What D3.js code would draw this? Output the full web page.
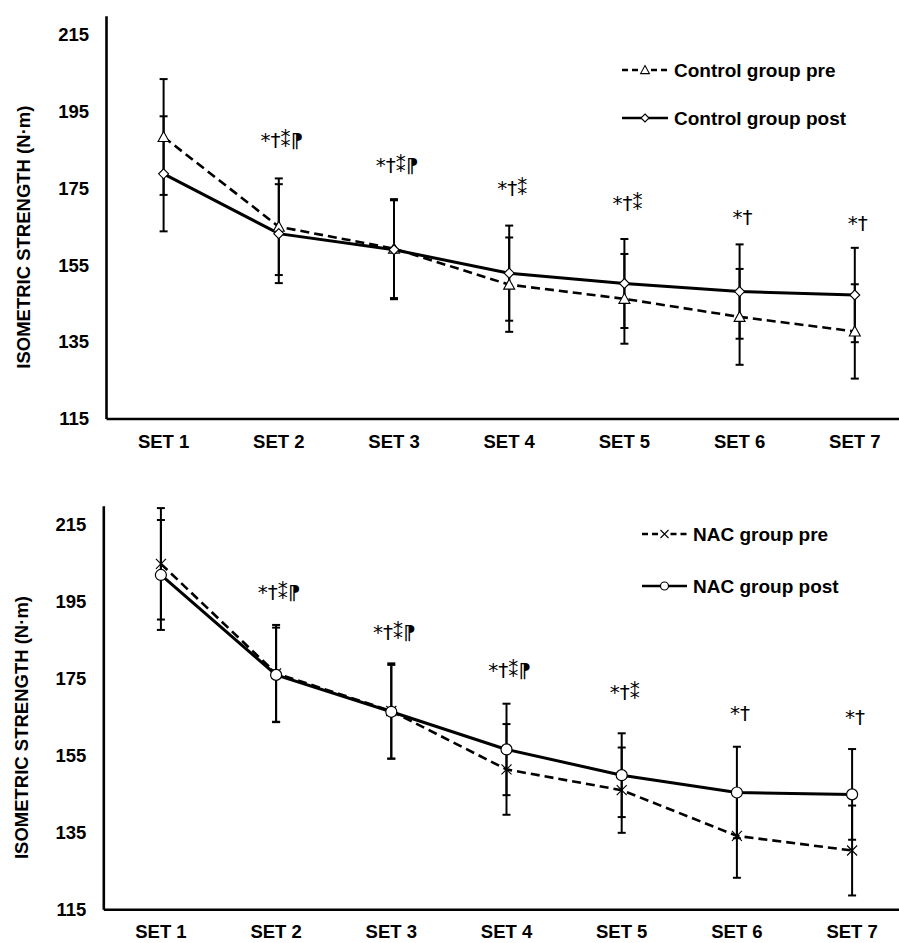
<!DOCTYPE html>
<html><head><meta charset="utf-8">
<script src="https://cdn.jsdelivr.net/npm/d3@7"></script>
<style>
html,body{margin:0;padding:0;background:#fff;}
svg{display:block;}
</style></head>
<body>
<svg id="chart" width="899" height="943"></svg>
<script>
// ---------- DATA ----------
const sets = ["SET 1","SET 2","SET 3","SET 4","SET 5","SET 6","SET 7"];
const yTicks = [115,135,155,175,195,215];
const yLabel = "ISOMETRIC STRENGTH (N·m)";

const controlPre   = [188.4, 165.0, 159.3, 149.9, 146.2, 141.5, 137.7];
const controlPreSD = [15.1, 12.6, 12.9, 12.3, 11.7, 12.5, 12.3];
const controlPost  = [178.8, 163.2, 159.0, 152.9, 150.2, 148.1, 147.2];
const controlPostSD= [15.0, 12.9, 12.9, 12.4, 11.6, 12.3, 12.3];

const nacPre   = [204.9, 176.4, 166.6, 151.4, 146.0, 134.1, 130.3];
const nacPreSD = [14.5, 12.6, 12.4, 11.8, 11.1, 10.9, 11.7];
const nacPost  = [202.0, 176.0, 166.4, 156.6, 149.9, 145.4, 144.9];
const nacPostSD= [14.3, 12.3, 12.2, 11.9, 10.9, 11.9, 11.8];

const controlMarks = ["", "*†⁑⁋", "*†⁑⁋", "*†⁑", "*†⁑", "*†", "*†"];
const controlMarkLevel = [null, 187.7, 181.1, 175.2, 171.3, 167.6, 166.0];
const nacMarks = ["", "*†⁑⁋", "*†⁑⁋", "*†⁑⁋", "*†⁑", "*†", "*†"];
const nacMarkLevel = [null, 197.6, 187.2, 177.4, 171.6, 166.2, 165.1];

const controlLegend = ["Control group pre", "Control group post"];
const nacLegend = ["NAC group pre", "NAC group post"];

// ---------- DRAW ----------
const svg = d3.select("#chart");
const FONT = "'Liberation Sans', Arial, sans-serif";

function markerPath(type, s){
  if(type==="triangle") return `M0,${-s*0.55}L${s*0.55},${s*0.45}L${-s*0.55},${s*0.45}Z`;
  if(type==="diamond") return `M0,${-s/2}L${s/2},0L0,${s/2}L${-s/2},0Z`;
  if(type==="x") return `M${-s/2},${-s/2}L${s/2},${s/2}M${-s/2},${s/2}L${s/2},${-s/2}`;
  return null;
}
function drawMarker(g, type, x, y, s){
  if(type==="circle"){
    g.append("circle").attr("cx",x).attr("cy",y).attr("r",s/2)
      .attr("fill","#fff").attr("stroke","#000").attr("stroke-width",1.2);
  } else if(type==="x"){
    g.append("path").attr("d",markerPath(type,s)).attr("transform",`translate(${x},${y})`)
      .attr("fill","none").attr("stroke","#000").attr("stroke-width",1.1);
  } else {
    g.append("path").attr("d",markerPath(type,s)).attr("transform",`translate(${x},${y})`)
      .attr("fill","#fff").attr("stroke","#000").attr("stroke-width",1.1);
  }
}

function panel(cfg){
  const g = svg.append("g");
  const x = d3.scaleBand().domain(sets).range([cfg.x0, cfg.x0 + 115.2*7]).padding(0);
  const y = d3.scaleLinear().domain([115,220]).range([cfg.yBottom, cfg.yTop]);
  const cx = d => x(d) + x.bandwidth()/2;

  // y axis
  const ya = g.append("g").attr("transform",`translate(${cfg.x0},0)`)
    .call(d3.axisLeft(y).tickValues(yTicks).tickSize(0).tickPadding(17).tickFormat(d3.format("d")));
  ya.select(".domain").attr("stroke","#000").attr("stroke-width",2.6);
  ya.selectAll("text").attr("font-family",FONT).attr("font-weight","bold").attr("font-size",18.5).attr("fill","#000");

  // x axis
  const xa = g.append("g").attr("transform",`translate(0,${cfg.yBottom})`)
    .call(d3.axisBottom(x).tickSize(0).tickPadding(16));
  xa.select(".domain").attr("stroke","#000").attr("stroke-width",2.6);
  xa.selectAll("text").attr("font-family",FONT).attr("font-weight","bold").attr("font-size",18.5).attr("fill","#000");

  // y label
  g.append("text")
    .attr("transform",`translate(${cfg.labelX},${(cfg.yTop+cfg.yBottom)/2+20}) rotate(-90)`)
    .attr("text-anchor","middle").attr("dominant-baseline","central")
    .attr("font-family",FONT).attr("font-weight","bold").attr("font-size",18.5)
    .attr("fill","#000")
    .text(yLabel);

  const series = [
    {vals:cfg.pre, sd:cfg.preSD, dash:"9,5", w:2.6, marker:cfg.preMarker, ms:cfg.preSize},
    {vals:cfg.post, sd:cfg.postSD, dash:null, w:3, marker:cfg.postMarker, ms:cfg.postSize}
  ];

  // error bars
  series.forEach(s=>{
    sets.forEach((c,i)=>{
      const xx = cx(c), hi = y(s.vals[i]+s.sd[i]), lo = y(s.vals[i]-s.sd[i]);
      g.append("line").attr("x1",xx).attr("x2",xx).attr("y1",hi).attr("y2",lo)
        .attr("stroke","#000").attr("stroke-width",2);
      [hi,lo].forEach(yy=>g.append("line").attr("x1",xx-4).attr("x2",xx+4).attr("y1",yy).attr("y2",yy)
        .attr("stroke","#000").attr("stroke-width",2));
    });
  });

  // lines
  series.forEach(s=>{
    const line = d3.line().x((d,i)=>cx(sets[i])).y(d=>y(d));
    const p = g.append("path").datum(s.vals).attr("d",line)
      .attr("fill","none").attr("stroke","#000").attr("stroke-width",s.w);
    if(s.dash) p.attr("stroke-dasharray",s.dash);
  });

  // markers
  series.forEach(s=>{
    s.vals.forEach((v,i)=>drawMarker(g, s.marker, cx(sets[i]), y(v), s.ms));
  });

  // annotations
  cfg.marks.forEach((m,i)=>{
    if(!m) return;
    g.append("text").attr("x",cx(sets[i])+3).attr("y",y(cfg.markLevel[i]))
      .attr("text-anchor","middle").attr("dominant-baseline","central")
      .attr("font-family","'DejaVu Sans', 'Liberation Serif', serif").attr("font-size",20)
      .attr("fill","#000")
      .text(m);
  });

  // legend
  const L = cfg.legend;
  [0,1].forEach(k=>{
    const ly = L.y[k];
    const mid = (L.x1+L.x2)/2;
    if(k===0){
      g.append("line").attr("x1",L.x1).attr("x2",mid-5).attr("y1",ly).attr("y2",ly)
        .attr("stroke","#000").attr("stroke-width",2.4).attr("stroke-dasharray","6,4");
      g.append("line").attr("x1",mid+6).attr("x2",L.x2).attr("y1",ly).attr("y2",ly)
        .attr("stroke","#000").attr("stroke-width",2.4).attr("stroke-dasharray","6,4");
      drawMarker(g, cfg.preMarker, mid, ly, 8);
    } else {
      g.append("line").attr("x1",L.x1).attr("x2",L.x2).attr("y1",ly).attr("y2",ly)
        .attr("stroke","#000").attr("stroke-width",2.6);
      drawMarker(g, cfg.postMarker, mid, ly, 8);
    }
    g.append("text").attr("x",L.tx).attr("y",ly).attr("dominant-baseline","central")
      .attr("font-family",FONT).attr("font-weight","bold").attr("font-size",19)
      .attr("fill","#000")
      .text(L.labels[k]);
  });
}

panel({
  x0:106, yTop:15.8, yBottom:418.5, labelX:23,
  pre:controlPre, preSD:controlPreSD, post:controlPost, postSD:controlPostSD,
  preMarker:"triangle", preSize:10, postMarker:"diamond", postSize:10,
  marks:controlMarks, markLevel:controlMarkLevel,
  legend:{x1:622, x2:668, tx:674, y:[70,118], labels:controlLegend}
});
panel({
  x0:103.3, yTop:505.8, yBottom:909.3, labelX:21,
  pre:nacPre, preSD:nacPreSD, post:nacPost, postSD:nacPostSD,
  preMarker:"x", preSize:10, postMarker:"circle", postSize:11,
  marks:nacMarks, markLevel:nacMarkLevel,
  legend:{x1:642, x2:687, tx:693, y:[534,586], labels:nacLegend}
});
</script>
</body></html>
